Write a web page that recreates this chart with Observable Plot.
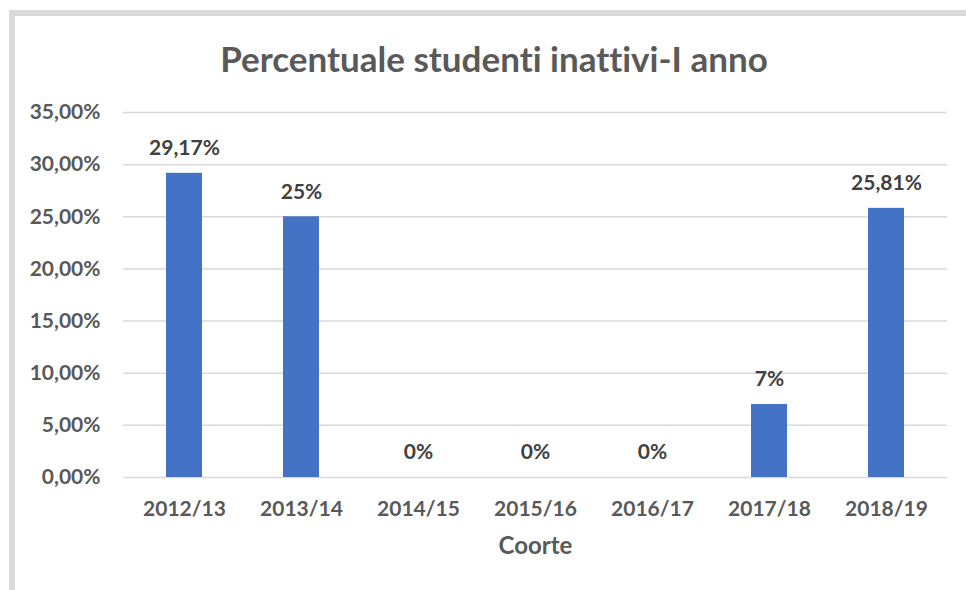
<!DOCTYPE html>
<html>
<head>
<meta charset="utf-8">
<script src="https://cdn.jsdelivr.net/npm/d3@7"></script>
<script src="https://cdn.jsdelivr.net/npm/@observablehq/plot@0.6"></script>
<style>
  html, body { margin: 0; padding: 0; background: #fff; overflow: hidden; width: 966px; height: 590px; }
  #wrap { position: relative; width: 966px; height: 590px; overflow: hidden; }
  #frame { position: absolute; left: 9px; top: 10px; width: 1000px; height: 700px; border-left: 6px solid #d9d9d9; border-top: 6px solid #d9d9d9; box-sizing: border-box; }
  #title { position: absolute; left: 0; width: 988px; top: 37px; text-align: center; font-family: Lato, "Open Sans", sans-serif; font-weight: 700; font-size: 35px; color: #595959; margin: 0; line-height: 42px; font-variant-ligatures: none; }
  #chart { position: absolute; left: 0; top: 0; }
  #chart svg { font-variant-ligatures: none; }
</style>
</head>
<body>
<div id="wrap">
  <div id="frame"></div>
  <div id="chart"></div>
  <h2 id="title">Percentuale studenti inattivi-I anno</h2>
</div>
<script>
const categories = ["2012/13", "2013/14", "2014/15", "2015/16", "2016/17", "2017/18", "2018/19"];
const values = [0.2917, 0.25, 0, 0, 0, 0.07, 0.2581];
const valueLabels = ["29,17%", "25%", "0%", "0%", "0%", "7%", "25,81%"];
const yTicks = [0, 0.05, 0.10, 0.15, 0.20, 0.25, 0.30, 0.35];
const xTitle = "Coorte";

const data = categories.map((c, i) => ({cat: c, val: values[i], lab: valueLabels[i]}));
const fmt = d => (d * 100).toFixed(2).replace(".", ",") + "%";
const font = "Lato, 'Open Sans', sans-serif";

const plot = Plot.plot({
  width: 966,
  height: 590,
  marginLeft: 123,
  marginRight: 19,
  marginTop: 112,
  marginBottom: 113,
  style: {fontFamily: font, background: "transparent"},
  x: {domain: categories, paddingInner: 0.69, paddingOuter: 0.345},
  y: {domain: [0, 0.35]},
  marks: [
    Plot.gridY(yTicks, {stroke: "#d9d9d9", strokeOpacity: 1, strokeWidth: 1.5}),
    Plot.barY(data, {x: "cat", y: "val", fill: "#4472c4"}),
    Plot.text(data, {x: "cat", y: "val", text: "lab", dy: -25, fill: "#404040", fontSize: 21, fontWeight: "bold"}),
    Plot.axisY(yTicks, {tickSize: 0, tickPadding: 23, tickFormat: fmt, fontSize: 21, fontWeight: "bold", fill: "#595959", label: null}),
    Plot.axisX({tickSize: 0, tickPadding: 24, fontSize: 21, fontWeight: "bold", fill: "#595959", label: null}),
    Plot.text([xTitle], {frameAnchor: "bottom", dy: 76, text: d => d, fontSize: 24, fontWeight: "bold", fill: "#595959"})
  ]
});
document.getElementById("chart").appendChild(plot);
</script>
</body>
</html>
